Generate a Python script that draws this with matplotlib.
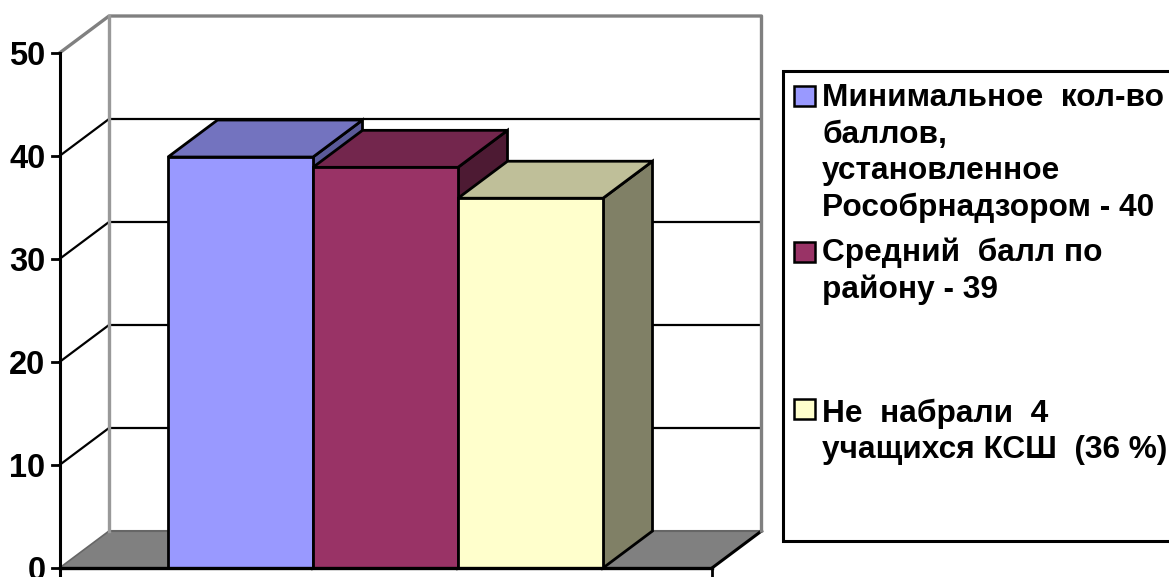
import matplotlib
matplotlib.use("Agg")
import matplotlib.pyplot as plt
from matplotlib.patches import Polygon, Rectangle

plt.rcParams["font.family"] = ["Liberation Sans", "DejaVu Sans"]

# data
labels = ["Минимальное  кол-во\nбаллов,\nустановленное\nРособрнадзором - 40",
          "Средний  балл по\nрайону - 39",
          "Не  набрали  4\nучащихся КСШ  (36 %)"]
values = [39.9, 38.9, 35.9]
y_ticks = [0, 10, 20, 30, 40, 50]

# front, top, side shades of each bar
FRONT = ["#9999ff", "#993366", "#ffffcc"]
TOP = ["#7373bf", "#73264d", "#bfbf99"]
SIDE = ["#5a5a99", "#4d1a33", "#808066"]

W, H = 1169, 577
X0, X_SCALE = 168, 145   # px of x=0, px per bar
Y0, Y_SCALE = 568, 10.3  # px of y=0, px per unit
DX = 49.5 / X_SCALE      # depth offset in data units
DY = 37 / Y_SCALE
XL, XR = (59.5 - X0) / X_SCALE, (712 - X0) / X_SCALE
GREY = "#808080"


def px(x, y):
    # pixel position to data coords, for the legend box only
    return (x - X0) / X_SCALE, (Y0 - y) / Y_SCALE


fig = plt.figure(figsize=(W / 100, H / 100), dpi=100, facecolor="white")
ax = fig.add_axes([0, 0, 1, 1])
ax.set_xlim(-X0 / X_SCALE, (W - X0) / X_SCALE)
ax.set_ylim((Y0 - H) / Y_SCALE, Y0 / Y_SCALE)
ax.axis("off")

# floor
ax.add_patch(Polygon([(XL, 0), (XR, 0), (XR + DX, DY), (XL + DX, DY)],
                     fc=GREY, ec="none", zorder=1))
ax.plot([XL, XL + DX], [0, DY], color="#666666", lw=1.2, zorder=1)
ax.plot([XL + DX, XR + DX], [DY, DY], color="#666666", lw=1.5, zorder=1)
ax.plot([XR, XR + DX], [0, DY], color="black", lw=2.2, zorder=1)

# gridlines on the walls
for t in y_ticks[1:-1]:
    ax.plot([XL, XL + DX, XR + DX], [t, t + DY, t + DY], color="black", lw=1.6, zorder=1)

# wall outlines
top = y_ticks[-1]
ax.plot([XL, XL + DX, XR + DX, XR + DX], [top, top + DY, top + DY, DY],
        color=GREY, lw=2.4, zorder=1.5)
ax.plot([XL + DX, XL + DX], [DY, top + DY], color="#999999", lw=2.4, zorder=1.5)

# bars, drawn left to right so each one covers the side of the previous
for i, v in enumerate(values):
    kw = dict(ec="black", lw=2.0, joinstyle="miter", zorder=2 + i)
    ax.add_patch(Polygon([(i + 1, 0), (i + 1 + DX, DY), (i + 1 + DX, v + DY), (i + 1, v)],
                         fc=SIDE[i], **kw))
    ax.add_patch(Polygon([(i, v), (i + DX, v + DY), (i + 1 + DX, v + DY), (i + 1, v)],
                         fc=TOP[i], **kw))
    ax.add_patch(Rectangle((i, 0), 1, v, fc=FRONT[i], **kw))

# axes
ax.plot([XL, XL], [(Y0 - H) / Y_SCALE, top], color="black", lw=2.2, zorder=6)
ax.plot([XL, XR], [0, 0], color="black", lw=2.4, zorder=6)
ax.plot([XR, XR], [(Y0 - H) / Y_SCALE, 0], color="black", lw=2.0, zorder=6)
tick_len = 8 / X_SCALE
for t in y_ticks:
    ax.plot([XL - tick_len, XL], [t, t], color="black", lw=2.0, zorder=6)
    ax.text(XL - 14 / X_SCALE, t, str(t), ha="right", va="center_baseline",
            fontsize=23.5, fontweight="bold", color="black", zorder=7)

# legend
bx, by = px(783, 541)
bx2, by2 = px(1180, 71)
ax.add_patch(Rectangle((bx, by), bx2 - bx, by2 - by, fc="white", ec="black", lw=2.2,
                       zorder=8))
key_y = [95.5, 252, 409]
base_y = [216, 298, 458]  # baseline of each label's last line
for lab, c, ky, by1 in zip(labels, FRONT, key_y, base_y):
    kx0, ky0 = px(793.5, ky + 10)
    kx1, ky1 = px(814.5, ky - 10)
    ax.add_patch(Rectangle((kx0, ky0), kx1 - kx0, ky1 - ky0, fc=c, ec="black", lw=1.8,
                           zorder=9))
    tx, ty = px(822, by1)
    ax.text(tx, ty, lab, ha="left", va="baseline", fontsize=22.8, fontweight="bold",
            linespacing=1.28, color="black", zorder=9)

plt.savefig("out.png", dpi=100, facecolor="white")
plt.close()
